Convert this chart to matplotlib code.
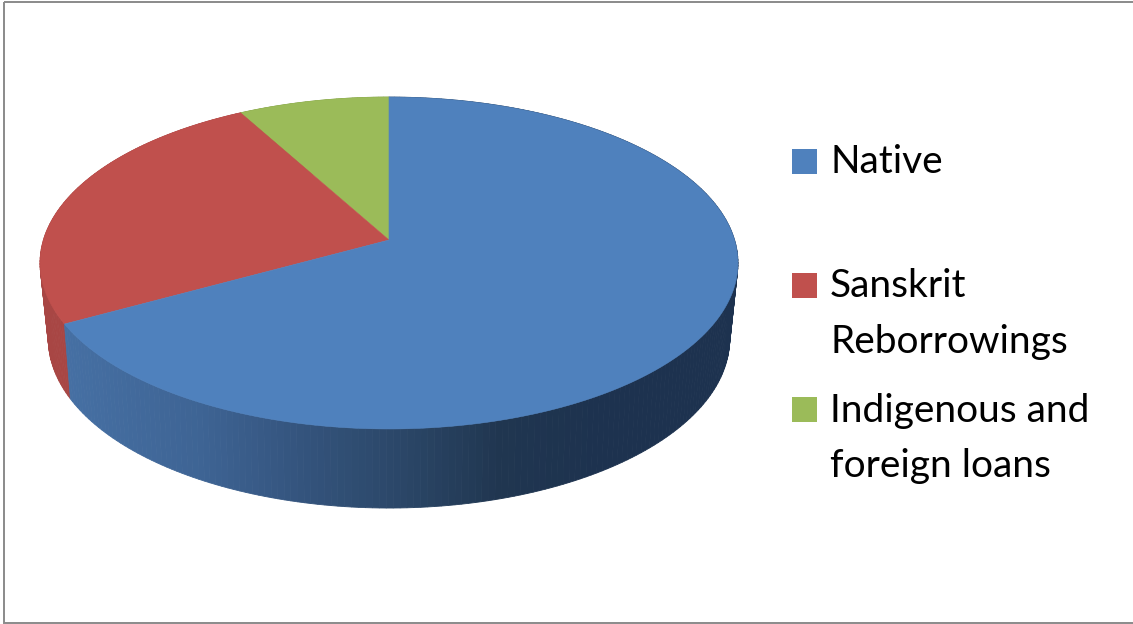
import numpy as np
import matplotlib
matplotlib.use('Agg')
import matplotlib.pyplot as plt
from matplotlib.patches import Polygon, Rectangle

labels = ['Native', 'Sanskrit\nReborrowings', 'Indigenous and\nforeign loans']
shares = [67, 25, 8]
colors = ['#4F81BD', '#C0504D', '#9BBB59']

# perspective of the two disc faces: a, b, c, k
top_face = (129.5, 240.0, -0.1386, 345.6)
bottom_face = (116.8, 313.0, -0.154, 336.6)
center_x = 389

# side wall shading from left to right
wall_x = [60, 200, 300, 400, 500, 600, 740]
wall_rgb = np.array([[70, 112, 164], [62, 100, 148], [52, 84, 125],
                     [43, 71, 104], [32, 54, 80], [29, 50, 79], [29, 50, 79]]) / 255
red_wall = '#A84644'


def rim(theta, face):
    a, b, c, k = face
    u = np.sin(theta)
    v = -np.cos(theta)
    d = 1 + c * v
    return center_x + k * u / d, (a * v + b) / d


def draw_walls(ax, start, stop, color):
    edges = np.linspace(start, stop, int(np.degrees(stop - start)) + 2)
    for t0, t1 in zip(edges[:-1], edges[1:]):
        x0, y0 = rim(t0, top_face)
        x1, y1 = rim(t1, top_face)
        x2, y2 = rim(t1, bottom_face)
        x3, y3 = rim(t0, bottom_face)
        if color == 'blue':
            xm = (x0 + x1) / 2
            c = [np.interp(xm, wall_x, wall_rgb[:, i]) for i in range(3)]
        else:
            c = color
        ax.add_patch(Polygon([(x0, y0), (x1, y1), (x2, y2), (x3, y3)],
                             facecolor=c, edgecolor=c, lw=0.6, zorder=2))


def draw_top(ax, start, stop, color, z):
    t = np.linspace(start, stop, 300)
    x, y = rim(t, top_face)
    pts = [(center_x, top_face[1])] + list(zip(x, y))
    ax.add_patch(Polygon(pts, facecolor=color, edgecolor=color, lw=0.4, zorder=z))


fig = plt.figure(figsize=(11.33, 6.24), dpi=100)
ax = fig.add_axes([0, 0, 1, 1])
ax.set_xlim(0, 1133)
ax.set_ylim(624, 0)
ax.axis('off')

# outer chart border
ax.add_patch(Rectangle((3.5, 2), 1140, 620.5, fill=False, edgecolor='#8A8A8A', lw=1.4))

bounds = np.cumsum([0] + shares) / sum(shares) * 2 * np.pi
wall_colors = ['blue', red_wall, '#7C9A44']
for i in [2, 1, 0]:
    draw_walls(ax, bounds[i], bounds[i + 1], wall_colors[i])
for i, z in zip([2, 1, 0], [3, 3, 4]):
    draw_top(ax, bounds[i], bounds[i + 1], colors[i], z)

# legend
swatch_y = [149, 273, 397]
text_y = [173, 297, 422]
for label, color, sy, ty in zip(labels, colors, swatch_y, text_y):
    ax.add_patch(Rectangle((792, sy), 25, 25, facecolor=color, edgecolor='none'))
    for j, line in enumerate(label.split('\n')):
        ax.text(830, ty + j * 55.5, line, family='Lato', fontsize=28, color='black',
                va='baseline', ha='left')

fig.savefig('out.png', dpi=100)
